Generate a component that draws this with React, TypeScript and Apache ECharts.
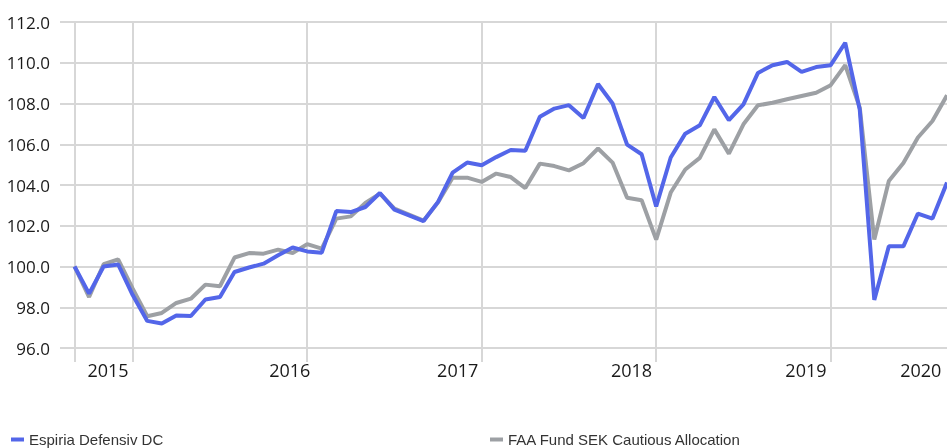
import React, { useEffect, useRef } from "react";
import * as echarts from "echarts";

const seriesNames = ["Espiria Defensiv DC", "FAA Fund SEK Cautious Allocation"];

// monthly index values, 61 points
const espiria = [
  100.0, 98.67, 100.0, 100.1, 98.6, 97.33, 97.2, 97.6, 97.57, 98.38,
  98.5, 99.73, 99.95, 100.14, 100.55, 100.93, 100.74, 100.68, 102.72, 102.67,
  102.92, 103.61, 102.79, 102.51, 102.23, 103.17, 104.61, 105.1, 104.97, 105.37,
  105.72, 105.68, 107.35, 107.75, 107.92, 107.29, 108.96, 108.0, 105.98, 105.51,
  102.95, 105.35, 106.52, 106.93, 108.32, 107.18, 107.96, 109.5, 109.88, 110.04,
  109.55, 109.79, 109.88, 110.98, 107.7, 98.36, 100.99, 100.99, 102.6, 102.35,
  104.12,
];

const faaCautious = [
  100.0, 98.5, 100.11, 100.35, 98.91, 97.56, 97.72, 98.21, 98.42, 99.11,
  99.03, 100.44, 100.66, 100.63, 100.83, 100.66, 101.1, 100.88, 102.35, 102.46,
  103.12, 103.58, 102.84, 102.55, 102.25, 103.15, 104.36, 104.36, 104.15, 104.56,
  104.39, 103.85, 105.05, 104.93, 104.72, 105.07, 105.79, 105.1, 103.37, 103.25,
  101.32, 103.63, 104.76, 105.33, 106.73, 105.54, 106.98, 107.91, 108.04, 108.21,
  108.37, 108.53, 108.9, 109.88, 107.8, 101.32, 104.2, 105.08, 106.33, 107.14,
  108.4,
];

// x-axis: year labels and where they sit (in month index units)
const yearLabels = ["2015", "2016", "2017", "2018", "2019", "2020"];
const yearLabelAt = [2.3, 14.8, 26.35, 38.3, 50.3, 58.2];
// vertical grid lines (month index)
const yearLinesAt = [0, 4, 16, 28, 40, 52];

const yMin = 96;
const yMax = 112;
const yStep = 2;

const BLUE = "#5366e9";
const GREY = "#9da0a4";
const GRID = "#d7d7d7";

export default function App() {
  const ref = useRef<HTMLDivElement>(null);

  useEffect(() => {
    if (!ref.current) return;
    const chart = echarts.init(ref.current, null, { renderer: "svg" });
    const toPairs = (arr: number[]) => arr.map((v, i) => [i, v]);
    const legendText = {
      fontFamily: "'Liberation Sans', Arial, sans-serif",
      fontSize: 15,
      color: "#333333",
    };
    chart.setOption({
      animation: false,
      grid: { left: 60, right: 0, top: 22, bottom: 100, containLabel: false },
      xAxis: {
        type: "value",
        min: -1,
        max: 60,
        axisLine: { show: false },
        axisTick: {
          show: true,
          customValues: yearLinesAt,
          length: 14,
          lineStyle: { color: GRID, width: 2 },
        },
        splitLine: { show: true, lineStyle: { color: GRID, width: 2 } },
        axisLabel: {
          customValues: yearLabelAt,
          margin: 13,
          fontFamily: "'Open Sans', sans-serif",
          fontSize: 18,
          color: "#1a1a1a",
          formatter: (v: number) => {
            const k = yearLabelAt.findIndex((p) => Math.abs(p - v) < 1e-6);
            return k >= 0 ? yearLabels[k] : "";
          },
        },
      },
      yAxis: {
        type: "value",
        min: yMin,
        max: yMax,
        interval: yStep,
        axisLine: { show: false },
        axisTick: { show: false },
        splitLine: { show: true, lineStyle: { color: GRID, width: 2 } },
        axisLabel: {
          margin: 10,
          fontFamily: "'Open Sans', sans-serif",
          fontSize: 17,
          color: "#1a1a1a",
          formatter: (v: number) => v.toFixed(1),
        },
      },
      legend: [
        {
          data: [seriesNames[0]],
          left: 11,
          top: 432,
          padding: 0,
          itemWidth: 13,
          itemHeight: 4,
          itemGap: 3,
          icon: "rect",
          textStyle: legendText,
        },
        {
          data: [seriesNames[1]],
          left: 490,
          top: 432,
          padding: 0,
          itemWidth: 13,
          itemHeight: 4,
          icon: "rect",
          textStyle: legendText,
        },
      ],
      series: [
        {
          name: seriesNames[1],
          type: "line",
          data: toPairs(faaCautious),
          showSymbol: false,
          symbol: "none",
          color: GREY,
          lineStyle: { color: GREY, width: 4 },
          z: 2,
        },
        {
          name: seriesNames[0],
          type: "line",
          data: toPairs(espiria),
          showSymbol: false,
          symbol: "none",
          color: BLUE,
          lineStyle: { color: BLUE, width: 4 },
          z: 3,
        },
      ],
    });
    return () => chart.dispose();
  }, []);

  return (
    <div
      ref={ref}
      style={{ position: "fixed", left: 0, top: 0, width: 947, height: 448 }}
    />
  );
}
